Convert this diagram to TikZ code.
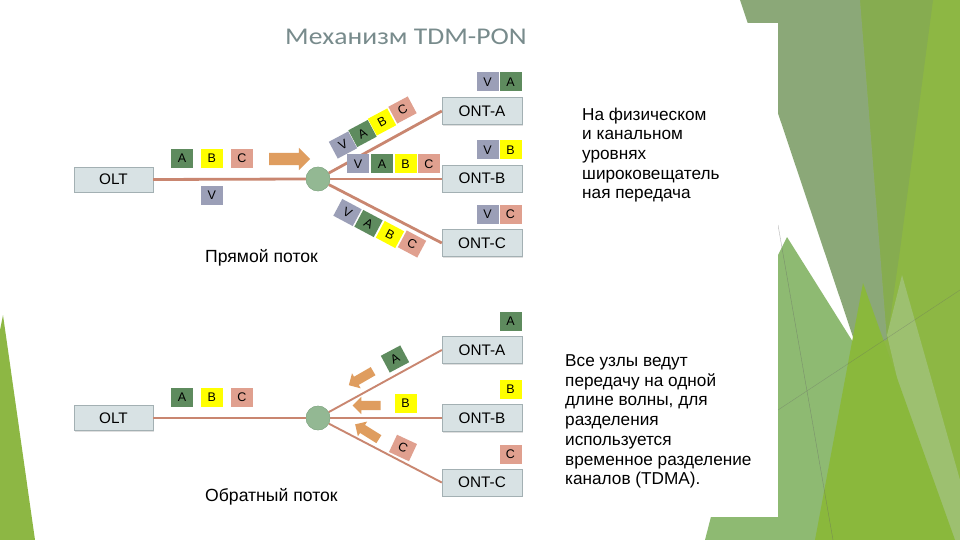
\documentclass[tikz,border=0pt]{standalone}
\usepackage{fontspec}
\setmainfont{Liberation Sans}
\newfontfamily\titlefont[FakeStretch=1.15]{Carlito}
\usetikzlibrary{shapes.arrows,shadows}
\definecolor{boxfill}{HTML}{D8E2E4}
\definecolor{boxline}{HTML}{A3B0B3}
\definecolor{fibercol}{HTML}{C98670}
\definecolor{splitfill}{HTML}{93B893}
\definecolor{splitdraw}{HTML}{86AA88}
\definecolor{cV}{HTML}{9B9FB7}
\definecolor{cA}{HTML}{5E8B5E}
\definecolor{cB}{HTML}{FFFF00}
\definecolor{cC}{HTML}{E0A08F}
\definecolor{arrowcol}{HTML}{DF9D5F}
\definecolor{titlecol}{HTML}{788B8C}
\definecolor{bgGray}{HTML}{8BA878}
\definecolor{bgOlive}{HTML}{86AC50}
\definecolor{bgLime}{HTML}{8DB744}
\definecolor{bgMid}{HTML}{8EBA72}
\definecolor{bgBright}{HTML}{8AB83C}
\definecolor{bgLight}{HTML}{9DC070}
\begin{document}
\begin{tikzpicture}[x=1pt,y=-1pt,
  ont/.style={draw=boxline, fill=boxfill, minimum width=80pt, minimum height=27pt, inner sep=0pt,
    font=\fontsize{15.3}{17}\selectfont,
    drop shadow={shadow xshift=1.2pt, shadow yshift=-1.2pt, opacity=.25}},
  oltbox/.style={ont, minimum width=79pt, minimum height=25pt},
  tag/.style={minimum width=22pt, minimum height=19pt, inner sep=0pt, font=\fontsize{12.5}{14}\selectfont},
  tv/.style={tag, fill=cV},
  ta/.style={tag, fill=cA},
  tb/.style={tag, fill=cB},
  tc/.style={tag, fill=cC},
  fiber/.style={draw=fibercol, line width=2.8pt},
  fiberup/.style={draw=fibercol, line width=1.9pt},
  splitter/.style={circle, fill=splitfill, draw=splitdraw, minimum size=24pt, inner sep=0pt},
  flow/.style={single arrow, fill=arrowcol, inner xsep=0pt, inner ysep=6pt, minimum height=41pt,
    single arrow head extend=5pt},
  flowup/.style={single arrow, fill=arrowcol, inner xsep=0pt, inner ysep=4.5pt, minimum height=28pt,
    single arrow head extend=4pt},
  caption/.style={anchor=base west, inner sep=0pt, font=\fontsize{17.6}{20}\selectfont},
  note/.style={anchor=north west, inner sep=0pt, align=left, font=\fontsize{17.2}{19.7}\selectfont}
]
\useasboundingbox (0,0) rectangle (960,540);
% ---------- background ----------
\fill[white] (0,0) rectangle (960,540);
\fill[bgLime] (853,0) rectangle (960,540);
\fill[bgOlive] (860,0) -- (933,0) -- (900,250) -- (887,340) -- cycle;
\fill[bgGray] (740,0) -- (860,0) -- (887,340) -- (856,346) -- cycle;
\fill[bgLight] (887,335) -- (902,275) -- (960,480) -- (960,540) -- (935,540) -- cycle;
\fill[bgMid] (787,237) -- (858,350) -- (875,540) -- (705,540) -- (778,255) -- cycle;
\fill[bgBright] (863,283) -- (815,540) -- (955,540) -- cycle;
\draw[black!60, opacity=.5, line width=.4pt] (778,225) -- (833,540);
\draw[black!60, opacity=.4, line width=.4pt] (778,410) -- (960,290);
\fill[white] (40,23) rectangle (778,517);
\fill[bgLime] (0,330) -- (3,315) -- (35,540) -- (0,540) -- cycle;
% ---------- title ----------
\node[anchor=base west, inner sep=0pt, text=titlecol, font=\titlefont\fontsize{24}{28}\selectfont]
  (title) at (285,45) {Механизм TDM-PON};
% ---------- downstream ----------
\node[oltbox] (olt1) at (113.5,179.5) {OLT};
\node[ont] (onta1) at (482,111) {ONT-A};
\node[ont] (ontb1) at (482,178.5) {ONT-B};
\node[ont] (ontc1) at (482,243) {ONT-C};
\node[splitter] (sp1) at (318,179) {};
\draw[fiber] (olt1.east) -- (sp1.west);
\draw[fiber] (sp1) -- (onta1.west);
\draw[fiber] (sp1.east) -- (sp1.east -| ontb1.west);
\draw[fiber] (sp1) -- (ontc1.west);
\node[splitter] at (sp1) {};
% tags on OLT line
\node[ta] (d1a) at (182,158.5) {A};
\node[tb] (d1b) at (211.7,158.5) {B};
\node[tc] (d1c) at (242,158.5) {C};
\node[tv] (d1v) at (211.7,195) {V};
\node[flow] (d1arrow) at (286.5,159) {};
% tags on branch A
\node[tv, rotate=28] (dav) at (343,145) {V};
\node[ta, rotate=28] (daa) at (362.5,133.5) {A};
\node[tb, rotate=28] (dab) at (382,122) {B};
\node[tc, rotate=28] (dac) at (402.5,110) {C};
% tags on branch B
\node[tv] (dbv) at (358,164) {V};
\node[ta] (dba) at (382,164) {A};
\node[tb] (dbb) at (405.5,164) {B};
\node[tc] (dbc) at (429,164) {C};
% tags on branch C
\node[tv, rotate=-28] (dcv) at (347.5,212.5) {V};
\node[ta, rotate=-28] (dca) at (368.5,223.5) {A};
\node[tb, rotate=-28] (dcb) at (390,234.5) {B};
\node[tc, rotate=-28] (dcc) at (412,244) {C};
% tags above ONTs
\node[tv] (tav) at (487.5,82) {V};
\node[ta] (taa) at (510.5,82) {A};
\node[tv] (tbv) at (487.5,150) {V};
\node[tb] (tbb) at (510.5,150) {B};
\node[tv] (tcv) at (487.5,214) {V};
\node[tc] (tcc) at (510.5,214) {C};
\node[caption] (cap1) at (205,262) {Прямой поток};
% ---------- upstream ----------
\node[oltbox] (olt2) at (113.5,418) {OLT};
\node[ont] (onta2) at (482,350) {ONT-A};
\node[ont] (ontb2) at (482,418) {ONT-B};
\node[ont] (ontc2) at (482,482.5) {ONT-C};
\node[splitter] (sp2) at (318,418) {};
\draw[fiberup] (olt2.east) -- (sp2.west);
\draw[fiberup] (sp2) -- (onta2.west);
\draw[fiberup] (sp2.east) -- (sp2.east -| ontb2.west);
\draw[fiberup] (sp2) -- (ontc2.west);
\node[splitter] at (sp2) {};
\node[ta] (u1a) at (182,397) {A};
\node[tb] (u1b) at (211.7,397) {B};
\node[tc] (u1c) at (242,397) {C};
\node[ta, rotate=28] (uaa) at (395,359) {A};
\node[tb] (ubb) at (405.5,403) {B};
\node[tc, rotate=-25] (ucc) at (403,448) {C};
\node[flowup, rotate=210] (uarA) at (363,377) {};
\node[flowup, rotate=180] (uarB) at (369,405.5) {};
\node[flowup, rotate=148] (uarC) at (369,433) {};
\node[ta] (tua) at (510.5,321.5) {A};
\node[tb] (tub) at (510.5,389) {B};
\node[tc] (tuc) at (510.5,454) {C};
\node[caption] (cap2) at (205,501) {Обратный поток};
% ---------- notes ----------
\node[note] (note1) at (582,107.5) {На физическом\\и канальном\\уровнях\\широковещатель\\ная передача};
\node[note] (note2) at (565,354.5) {Все узлы ведут\\передачу на одной\\длине волны, для\\разделения\\используется\\временное разделение\\каналов (TDMA).};
\end{tikzpicture}
\end{document}
